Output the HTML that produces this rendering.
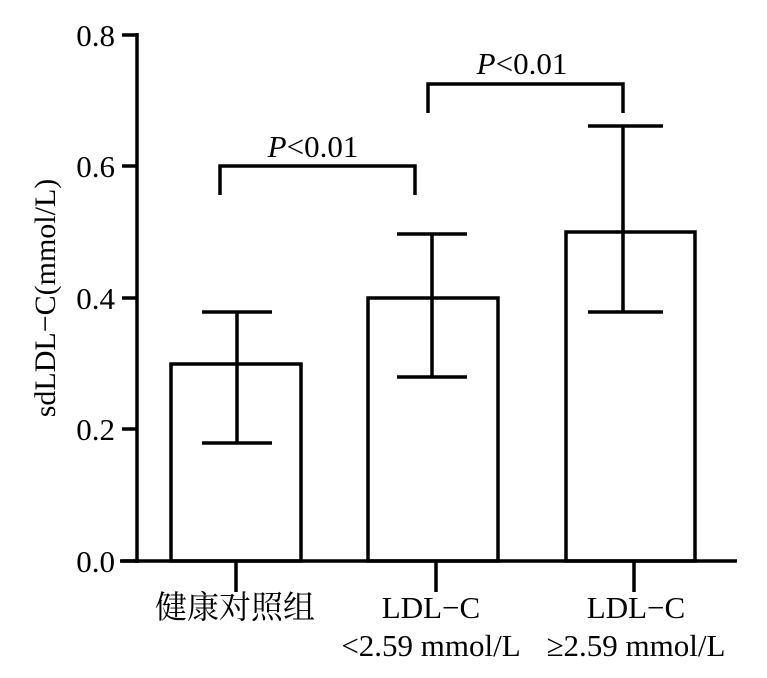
<!DOCTYPE html>
<html><head><meta charset="utf-8"><style>body{margin:0;background:#fff}</style></head><body>
<svg width="767" height="673" xmlns="http://www.w3.org/2000/svg" font-family="'Liberation Serif','Noto Serif CJK SC',serif" fill="none" stroke="#000" stroke-width="3.5">
<line x1="137" y1="33" x2="137" y2="563"/>
<line x1="120" y1="561" x2="737" y2="561"/>
<g>
<line x1="122" y1="35" x2="137" y2="35"/>
<line x1="122" y1="166" x2="137" y2="166"/>
<line x1="122" y1="298" x2="137" y2="298"/>
<line x1="122" y1="429" x2="137" y2="429"/>
<line x1="122" y1="561" x2="137" y2="561"/>
<line x1="236" y1="561" x2="236" y2="592"/>
<line x1="436" y1="561" x2="436" y2="592"/>
<line x1="634" y1="561" x2="634" y2="592"/>
</g>
<rect x="171" y="364" width="130" height="197"/>
<rect x="368" y="298" width="130" height="263"/>
<rect x="566" y="232" width="129" height="329"/>
<path d="M237 312V443M202 312H272M202 443H272"/>
<path d="M432 234V377M397 234H467M397 377H467"/>
<path d="M623 126V312M588 126H663M588 312H663"/>
<path d="M220 195V166H415V195"/>
<path d="M428 113V84H623V113"/>
<g fill="#000" stroke="none" font-size="31">
<text x="115" y="46" text-anchor="end">0.8</text>
<text x="115" y="177" text-anchor="end">0.6</text>
<text x="115" y="309" text-anchor="end">0.4</text>
<text x="115" y="440" text-anchor="end">0.2</text>
<text x="115" y="572" text-anchor="end">0.0</text>
<text x="313" y="157" text-anchor="middle"><tspan font-style="italic">P</tspan>&lt;0.01</text>
<text x="522" y="74" text-anchor="middle"><tspan font-style="italic">P</tspan>&lt;0.01</text>
<text x="235" y="618" text-anchor="middle" font-size="32">健康对照组</text>
<text x="431" y="618" text-anchor="middle">LDL−C</text>
<text x="431" y="656" text-anchor="middle">&lt;2.59 mmol/L</text>
<text x="636" y="618" text-anchor="middle">LDL−C</text>
<text x="636" y="656" text-anchor="middle">≥2.59 mmol/L</text>
<text transform="translate(55,298) rotate(-90)" text-anchor="middle" font-size="30">sdLDL−C(mmol/L)</text>
</g>
</svg>
</body></html>
